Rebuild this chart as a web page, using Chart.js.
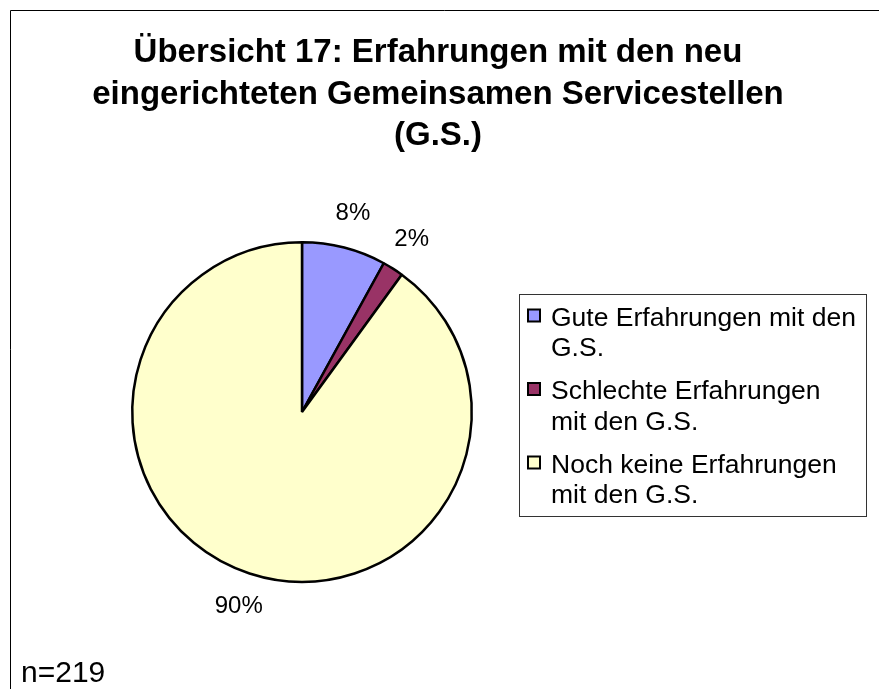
<!DOCTYPE html>
<html>
<head>
<meta charset="utf-8">
<script src="https://cdn.jsdelivr.net/npm/chart.js"></script>
<style>
  html, body { margin: 0; padding: 0; background: #fff; }
  canvas { display: block; }
</style>
</head>
<body>
<canvas id="chart" width="879" height="689"></canvas>
<script>
'use strict';

// Values (shares in percent)
var categories = [
  ['Gute Erfahrungen mit den', 'G.S.'],
  ['Schlechte Erfahrungen', 'mit den G.S.'],
  ['Noch keine Erfahrungen', 'mit den G.S.']
];
var percentages = [8, 2, 90];
var sliceColors = ['#9999ff', '#993366', '#ffffcc'];
var titleLines = [
  'Übersicht 17: Erfahrungen mit den neu',
  'eingerichteten Gemeinsamen Servicestellen',
  '(G.S.)'
];
var footnote = 'n=219';

var FONT = '"Liberation Sans", Arial, Helvetica, sans-serif';

/**
 * Frame, title, legend, footnote and percent labels.
 */
var decorations = {
  id: 'decorations',
  beforeDraw: function(chart) {
    var ctx = chart.ctx;
    ctx.save();
    ctx.fillStyle = '#fff';
    ctx.fillRect(0, 0, chart.width, chart.height);
    // Frame (only left and top edges are inside the picture)
    ctx.strokeStyle = '#000';
    ctx.lineWidth = 1;
    ctx.beginPath();
    ctx.moveTo(10.5, chart.height);
    ctx.lineTo(10.5, 10.5);
    ctx.lineTo(chart.width, 10.5);
    ctx.stroke();
    ctx.restore();
  },
  afterDatasetsDraw: function(chart) {
    var ctx = chart.ctx;
    var meta = chart.getDatasetMeta(0);
    var values = chart.data.datasets[0].data;
    ctx.save();
    ctx.font = '24px ' + FONT;
    ctx.fillStyle = '#000';
    ctx.textAlign = 'center';
    ctx.textBaseline = 'middle';
    meta.data.forEach(function(arc, i) {
      var p = arc.getProps(['x', 'y', 'startAngle', 'endAngle', 'outerRadius'], true);
      var mid = (p.startAngle + p.endAngle) / 2;
      var dist = p.outerRadius + 35;
      ctx.fillText(values[i] + '%', p.x + Math.cos(mid) * dist, p.y + Math.sin(mid) * dist);
    });
    ctx.restore();
  },
  afterDraw: function(chart) {
    var ctx = chart.ctx;
    ctx.save();
    ctx.fillStyle = '#000';

    // Title
    ctx.font = 'bold 33px ' + FONT;
    ctx.textAlign = 'center';
    ctx.textBaseline = 'alphabetic';
    titleLines.forEach(function(line, i) {
      ctx.fillText(line, 438, 62 + i * 41.5);
    });

    // Legend
    var box = { x: 519.5, y: 294.5, w: 347, h: 222 };
    ctx.strokeStyle = '#333';
    ctx.lineWidth = 1;
    ctx.strokeRect(box.x, box.y, box.w, box.h);
    ctx.font = '26.5px ' + FONT;
    ctx.textAlign = 'left';
    chart.data.labels.forEach(function(lines, i) {
      var base = 325.5 + i * 73.5;
      ctx.fillStyle = chart.data.datasets[0].backgroundColor[i];
      ctx.fillRect(528, base - 16, 12, 12);
      ctx.strokeStyle = '#000';
      ctx.lineWidth = 2;
      ctx.strokeRect(528, base - 16, 12, 12);
      ctx.fillStyle = '#000';
      lines.forEach(function(line, j) {
        ctx.fillText(line, 551, base + j * 30.5);
      });
    });

    // Sample size
    ctx.font = '30px ' + FONT;
    ctx.fillText(footnote, 21, 682);
    ctx.restore();
  }
};

new Chart(document.getElementById('chart'), {
  type: 'pie',
  data: {
    labels: categories,
    datasets: [{
      data: percentages,
      backgroundColor: sliceColors,
      borderColor: '#000',
      borderWidth: 2.5
    }]
  },
  options: {
    responsive: false,
    animation: false,
    layout: {
      padding: { left: 131, top: 241, right: 406, bottom: 106 }
    },
    plugins: {
      legend: { display: false },
      title: { display: false },
      tooltip: { enabled: false }
    }
  },
  plugins: [decorations]
});
</script>
</body>
</html>
